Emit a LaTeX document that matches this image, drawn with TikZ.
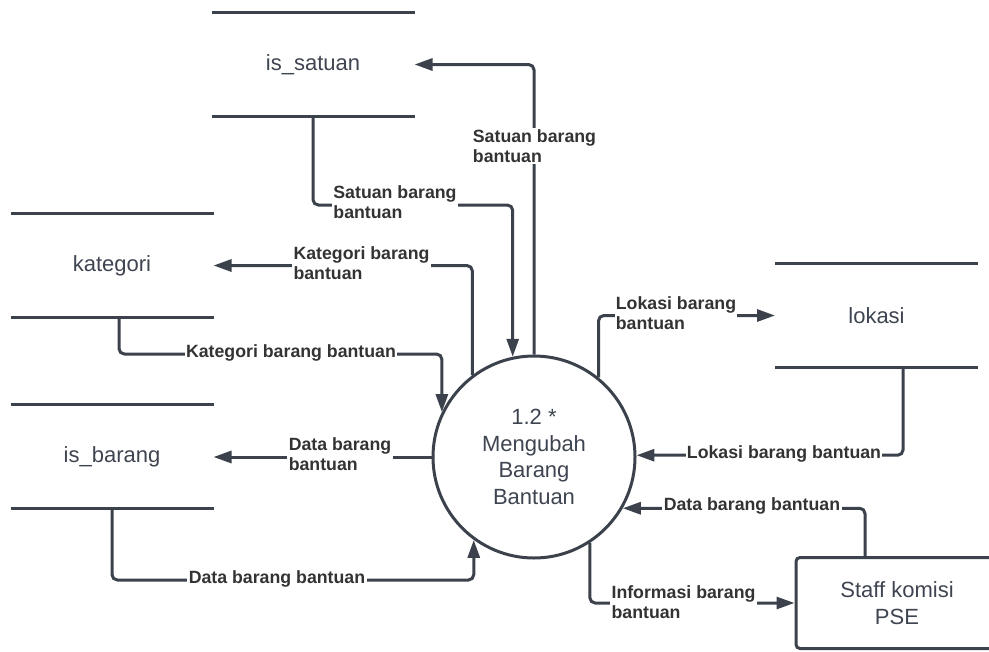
\documentclass[tikz,border=0pt]{standalone}
\usepackage{fontspec}
\setmainfont{Liberation Sans}
\usetikzlibrary{arrows.meta,calc}
\definecolor{ink}{HTML}{3B424C}
\definecolor{txt}{HTML}{3E4450}
\definecolor{lbl}{HTML}{333333}
\begin{document}
\begin{tikzpicture}[x=0.75pt,y=-0.75pt,
  line width=2.25pt, draw=ink,
  store/.style={rectangle, minimum width=150pt, minimum height=75.75pt, inner sep=0pt,
    text=txt, font=\fontsize{16.5}{20}\selectfont},
  proc/.style={circle, draw=ink, line width=2.25pt, minimum size=151.5pt, inner sep=0pt,
    align=center, text=txt, font=\fontsize{16.5}{20}\selectfont},
  entity/.style={rectangle, draw=ink, line width=2.25pt, rounded corners=3pt,
    minimum width=151.5pt, minimum height=68.25pt, align=center, text=txt,
    font=\fontsize{16.5}{20}\selectfont},
  flow/.style={draw=ink, line width=2.25pt, rounded corners=4pt,
    -{Triangle[length=13.5pt,width=9pt]}},
  lab/.style={fill=white, inner sep=1pt, align=left, text=lbl,
    font=\fontsize{13.3}{15.5}\selectfont\bfseries}]
\useasboundingbox (0,0) rectangle (989,651);
\clip (0,0) rectangle (989,651);

% data stores (open rectangles)
\node[store] (satuan)   at (313,64.5)   {is\_satuan};
\node[store] (kategori) at (112,265.5)  {kategori};
\node[store] (barang)   at (112,456.5)  {is\_barang};
\node[store] (lokasi)   at (876.5,315.5){lokasi};
\foreach \s in {satuan,kategori,barang,lokasi}{
  \draw (\s.north west) -- (\s.north east);
  \draw (\s.south west) -- (\s.south east);
}

% process and external entity
\node[proc] (proc) at (534,457) {1.2 *\\Mengubah\\Barang\\Bantuan};
\node[entity] (staff) at (897,603) {Staff komisi\\PSE};

% data flows
\draw[flow] (proc.north) |- (satuan.east);
\draw[flow] (satuan.south) |- (proc.102.6 |- 0,205) -- (proc.102.6);
\draw[flow] (proc.127.2) |- (kategori.east);
\draw[flow] ([xshift=5.25pt]kategori.south) |- (proc.154.3 |- 0,354) -- (proc.154.3);
\draw[flow] (proc.west) -- (proc.west -| barang.east);
\draw[flow] (barang.south) |- (proc.234.3 |- 0,580) -- (proc.234.3);
\draw[flow] (proc.51.4) |- (lokasi.west);
\draw[flow] ([xshift=19.9pt]lokasi.south) |- (proc.1);
\draw[flow] ([xshift=-24pt]staff.north) |- (proc.-30.3);
\draw[flow] (proc.303.7) |- (staff.west);

% flow labels
\node[lab] (l1)  at (534.5,146) {Satuan barang\\bantuan};
\node[lab] (l2)  at (395,202)   {Satuan barang\\bantuan};
\node[lab] (l3)  at (361.5,263) {Kategori barang\\bantuan};
\node[lab] (l4)  at (291,353)   {Kategori barang bantuan};
\node[lab] (l5)  at (340,454)   {Data barang\\bantuan};
\node[lab] (l6)  at (277,579)   {Data barang bantuan};
\node[lab] (l7)  at (676,313)   {Lokasi barang\\bantuan};
\node[lab] (l8)  at (784,454)   {Lokasi barang bantuan};
\node[lab] (l9)  at (752,506)   {Data barang bantuan};
\node[lab] (l10) at (683.5,602) {Informasi barang\\bantuan};
\end{tikzpicture}
\end{document}
